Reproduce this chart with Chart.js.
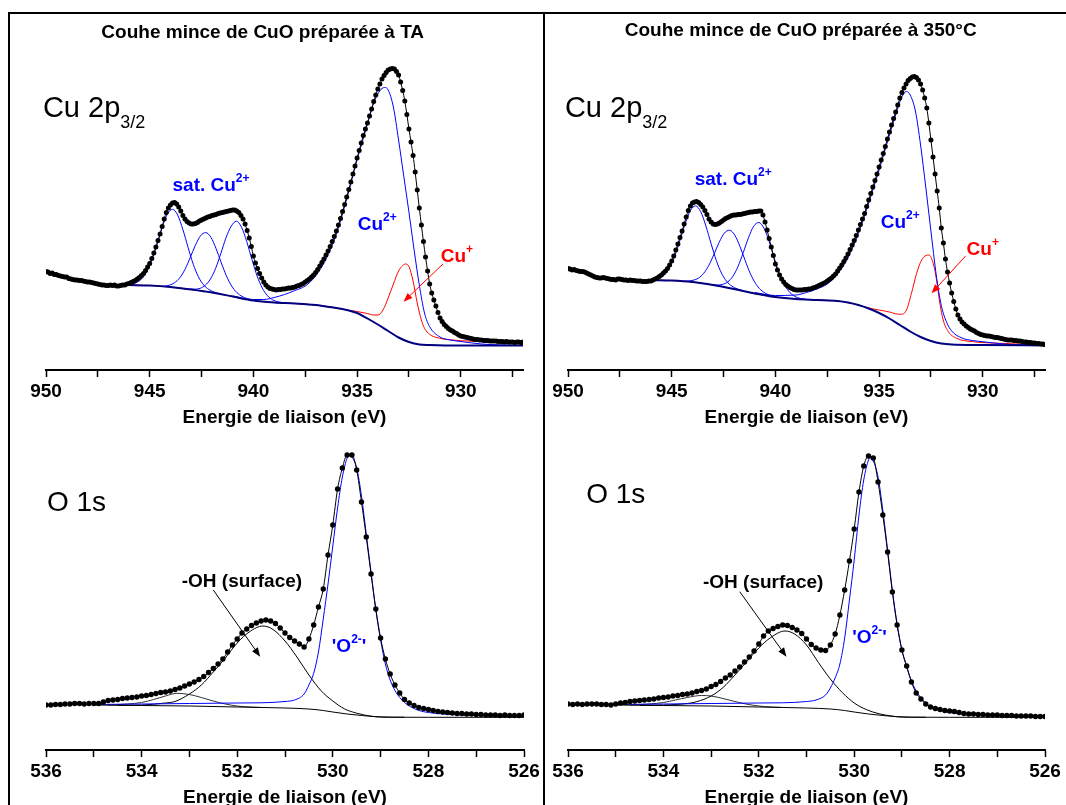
<!DOCTYPE html>
<html>
<head>
<meta charset="utf-8">
<script src="https://cdn.jsdelivr.net/npm/chart.js@4.4.1/dist/chart.umd.min.js"></script>
<style>
  body { margin: 0; background: #fff; }
  #page { position: relative; width: 1066px; height: 805px; overflow: hidden; }
  #page canvas { position: absolute; left: 0; top: 0; }
  .frame { position: absolute; border: 2px solid #000; }
</style>
</head>
<body>
<div id="page">
  <div class="frame" style="left:8px;top:12px;width:533px;height:900px;"></div>
  <div class="frame" style="left:543px;top:12px;width:600px;height:900px;border-left:none;"></div>
  <canvas id="cu-ta" width="1066" height="860"></canvas>
  <canvas id="cu-350" width="1066" height="860"></canvas>
  <canvas id="o-ta" width="1066" height="860"></canvas>
  <canvas id="o-350" width="1066" height="860"></canvas>
</div>
<script>
// XPS spectra, intensities in arbitrary units (kcps)

// ---- Cu 2p3/2 (one row per eV) ----
const cuEnergy = [
  950.0, 949.9, 949.8, 949.7, 949.6, 949.5, 949.4, 949.3, 949.2, 949.1,
  949.0, 948.9, 948.8, 948.7, 948.6, 948.5, 948.4, 948.3, 948.2, 948.1,
  948.0, 947.9, 947.8, 947.7, 947.6, 947.5, 947.4, 947.3, 947.2, 947.1,
  947.0, 946.9, 946.8, 946.7, 946.6, 946.5, 946.4, 946.3, 946.2, 946.1,
  946.0, 945.9, 945.8, 945.7, 945.6, 945.5, 945.4, 945.3, 945.2, 945.1,
  945.0, 944.9, 944.8, 944.7, 944.6, 944.5, 944.4, 944.3, 944.2, 944.1,
  944.0, 943.9, 943.8, 943.7, 943.6, 943.5, 943.4, 943.3, 943.2, 943.1,
  943.0, 942.9, 942.8, 942.7, 942.6, 942.5, 942.4, 942.3, 942.2, 942.1,
  942.0, 941.9, 941.8, 941.7, 941.6, 941.5, 941.4, 941.3, 941.2, 941.1,
  941.0, 940.9, 940.8, 940.7, 940.6, 940.5, 940.4, 940.3, 940.2, 940.1,
  940.0, 939.9, 939.8, 939.7, 939.6, 939.5, 939.4, 939.3, 939.2, 939.1,
  939.0, 938.9, 938.8, 938.7, 938.6, 938.5, 938.4, 938.3, 938.2, 938.1,
  938.0, 937.9, 937.8, 937.7, 937.6, 937.5, 937.4, 937.3, 937.2, 937.1,
  937.0, 936.9, 936.8, 936.7, 936.6, 936.5, 936.4, 936.3, 936.2, 936.1,
  936.0, 935.9, 935.8, 935.7, 935.6, 935.5, 935.4, 935.3, 935.2, 935.1,
  935.0, 934.9, 934.8, 934.7, 934.6, 934.5, 934.4, 934.3, 934.2, 934.1,
  934.0, 933.9, 933.8, 933.7, 933.6, 933.5, 933.4, 933.3, 933.2, 933.1,
  933.0, 932.9, 932.8, 932.7, 932.6, 932.5, 932.4, 932.3, 932.2, 932.1,
  932.0, 931.9, 931.8, 931.7, 931.6, 931.5, 931.4, 931.3, 931.2, 931.1,
  931.0, 930.9, 930.8, 930.7, 930.6, 930.5, 930.4, 930.3, 930.2, 930.1,
  930.0, 929.9, 929.8, 929.7, 929.6, 929.5, 929.4, 929.3, 929.2, 929.1,
  929.0, 928.9, 928.8, 928.7, 928.6, 928.5, 928.4, 928.3, 928.2, 928.1,
  928.0, 927.9, 927.8, 927.7, 927.6, 927.5, 927.4, 927.3, 927.2, 927.1,
  927.0];

const cuTA = [
  9.85, 9.8, 9.65, 9.7, 9.55, 9.55, 9.45, 9.4, 9.35, 9.3,
  9.3, 9.15, 9.1, 9.05, 9.0, 9.0, 8.95, 8.95, 8.9, 8.85,
  8.8, 8.8, 8.75, 8.7, 8.65, 8.6, 8.55, 8.5, 8.5, 8.45,
  8.45, 8.5, 8.45, 8.5, 8.4, 8.4, 8.45, 8.5, 8.5, 8.6,
  8.65, 8.75, 8.85, 8.95, 9.1, 9.25, 9.45, 9.65, 9.95, 10.3,
  10.65, 11.15, 11.7, 12.3, 12.95, 13.6, 14.35, 15.1, 15.75, 16.2,
  16.5, 16.7, 16.75, 16.6, 16.3, 15.9, 15.45, 15.1, 14.85, 14.7,
  14.6, 14.6, 14.65, 14.75, 14.9, 15.0, 15.1, 15.2, 15.3, 15.35,
  15.45, 15.5, 15.55, 15.65, 15.7, 15.75, 15.8, 15.85, 15.9, 15.95,
  16.0, 16.0, 15.9, 15.75, 15.45, 15.1, 14.6, 13.95, 13.2, 12.35,
  11.4, 10.7, 10.15, 9.65, 9.2, 8.8, 8.5, 8.3, 8.15, 8.1,
  8.05, 8.0, 8.05, 8.05, 8.1, 8.1, 8.15, 8.2, 8.2, 8.25,
  8.3, 8.4, 8.45, 8.55, 8.65, 8.8, 8.95, 9.1, 9.3, 9.5,
  9.75, 10.05, 10.4, 10.75, 11.1, 11.5, 11.9, 12.35, 12.85, 13.35,
  13.9, 14.5, 15.15, 15.85, 16.55, 17.3, 18.05, 18.8, 19.6, 20.4,
  21.2, 21.95, 22.7, 23.45, 24.1, 24.7, 25.4, 26.1, 26.85, 27.5,
  28.1, 28.6, 29.1, 29.45, 29.75, 30.0, 30.1, 30.15, 30.1, 29.85,
  29.5, 28.8, 27.95, 26.9, 25.55, 24.1, 22.8, 21.45, 19.8, 18.0,
  16.2, 14.5, 12.85, 11.3, 9.9, 8.6, 7.7, 7.0, 6.4, 5.75,
  5.2, 4.85, 4.55, 4.35, 4.15, 4.0, 3.9, 3.75, 3.65, 3.5,
  3.4, 3.35, 3.3, 3.25, 3.2, 3.15, 3.1, 3.05, 3.05, 3.0,
  3.0, 2.95, 2.95, 2.95, 2.9, 2.9, 2.9, 2.9, 2.85, 2.85,
  2.85, 2.8, 2.85, 2.8, 2.8, 2.8, 2.75, 2.8, 2.8, 2.75,
  2.8];

const cu350 = [
  10.15, 10.1, 10.0, 10.05, 9.95, 9.9, 9.85, 9.85, 9.8, 9.7,
  9.6, 9.5, 9.4, 9.3, 9.25, 9.2, 9.2, 9.25, 9.2, 9.15,
  9.1, 9.05, 9.05, 9.0, 9.1, 9.1, 9.05, 9.0, 9.0, 8.95,
  9.0, 8.95, 8.95, 8.9, 8.9, 8.9, 8.85, 8.85, 8.85, 8.9,
  8.9, 9.0, 9.1, 9.2, 9.35, 9.5, 9.7, 9.9, 10.15, 10.5,
  10.9, 11.4, 12.0, 12.6, 13.25, 13.9, 14.6, 15.3, 15.95, 16.4,
  16.7, 16.8, 16.85, 16.75, 16.55, 16.3, 15.95, 15.55, 15.1, 14.8,
  14.6, 14.55, 14.6, 14.7, 14.85, 15.0, 15.15, 15.25, 15.35, 15.45,
  15.5, 15.5, 15.55, 15.55, 15.6, 15.65, 15.7, 15.75, 15.8, 15.8,
  15.85, 15.85, 15.9, 15.9, 15.5, 14.8, 14.0, 13.15, 12.3, 11.45,
  10.6, 10.0, 9.5, 9.1, 8.8, 8.55, 8.4, 8.25, 8.15, 8.05,
  8.0, 8.0, 8.0, 8.0, 8.05, 8.05, 8.1, 8.1, 8.2, 8.25,
  8.35, 8.45, 8.55, 8.65, 8.75, 8.9, 9.05, 9.2, 9.4, 9.6,
  9.9, 10.2, 10.5, 10.85, 11.2, 11.6, 12.05, 12.5, 12.95, 13.45,
  14.0, 14.55, 15.1, 15.65, 16.35, 17.0, 17.65, 18.3, 18.95, 19.6,
  20.3, 21.0, 21.65, 22.35, 23.1, 23.8, 24.5, 25.15, 25.8, 26.5,
  27.2, 27.75, 28.2, 28.6, 28.95, 29.15, 29.3, 29.35, 29.25, 29.0,
  28.6, 28.0, 27.2, 26.2, 24.7, 23.0, 21.3, 19.6, 17.9, 16.2,
  14.2, 12.7, 11.1, 9.8, 8.7, 7.7, 6.85, 6.1, 5.5, 5.1,
  4.8, 4.6, 4.4, 4.25, 4.1, 4.0, 3.9, 3.75, 3.65, 3.55,
  3.5, 3.45, 3.4, 3.4, 3.35, 3.3, 3.25, 3.25, 3.2, 3.15,
  3.1, 3.05, 3.0, 3.0, 3.0, 2.95, 2.95, 2.9, 2.9, 2.85,
  2.8, 2.8, 2.75, 2.75, 2.7, 2.7, 2.65, 2.65, 2.6, 2.6,
  2.55];

// fitted components [energy, intensity]
const taBackground = [[946, 8.5], [945, 8.45], [944, 8.3], [943, 8.05], [942, 7.75], [941, 7.35], [940, 6.95],
  [939, 6.75], [938, 6.65], [937, 6.5], [936.5, 6.35], [936, 6.2], [935.5, 6.0], [935, 5.7], [934.5, 5.15],
  [934, 4.55], [933.5, 3.9], [933, 3.25], [932.5, 2.8], [932, 2.55], [931.5, 2.5], [930, 2.45], [927, 2.45]];
const taSat1 = [[946.15, 8.53], [945.9, 8.58], [945.65, 8.73], [945.4, 9.09], [945.15, 9.8], [944.9, 10.96],
  [944.65, 12.54], [944.4, 14.24], [944.15, 15.59], [943.9, 16.07], [943.65, 15.49], [943.4, 14.05],
  [943.15, 12.26], [942.9, 10.58], [942.65, 9.32], [942.4, 8.51], [942.15, 8.06], [941.9, 7.8], [941.65, 7.64]];
const taSat2 = [[944.55, 8.36], [944.3, 8.38], [944.05, 8.48], [943.8, 8.73], [943.55, 9.22], [943.3, 10.06],
  [943.05, 11.22], [942.8, 12.46], [942.55, 13.42], [942.3, 13.74], [942.05, 13.27], [941.8, 12.14],
  [941.55, 10.73], [941.3, 9.41], [941.05, 8.4], [940.8, 7.75], [940.55, 7.36], [940.3, 7.14], [940.05, 6.99]];
const taSat3 = [[943.07, 8.1], [942.82, 8.08], [942.57, 8.17], [942.32, 8.47], [942.07, 9.1], [941.82, 10.17],
  [941.57, 11.65], [941.32, 13.23], [941.07, 14.37], [940.82, 14.88], [940.57, 14.27], [940.32, 12.83],
  [940.07, 11.05], [939.82, 9.4], [939.57, 8.19], [939.32, 7.43], [939.07, 7.01], [938.82, 6.82], [938.57, 6.74]];
const taCu2 = [[941, 7.4], [940, 7.05], [939.5, 7.05], [939, 7.25], [938.5, 7.55], [938, 7.95], [937.5, 8.4],
  [937, 9.4], [936.5, 11.1], [936, 13.6], [935.5, 17.1], [935, 21.0], [934.5, 24.6], [934.25, 26.4], [934, 27.6],
  [933.8, 28.15], [933.67, 28.25], [933.5, 28.0], [933.25, 26.3], [933, 23.0], [932.75, 19.4], [932.5, 15.8],
  [932.25, 12.0], [932, 8.5], [931.75, 5.7], [931.5, 4.33], [931, 3.3], [930.5, 3.0], [930, 2.85], [929, 2.6],
  [928, 2.5], [927, 2.45]];
const taCu1 = [[946, 8.5], [945, 8.45], [944, 8.3], [943, 8.05], [942, 7.75], [941, 7.35], [940, 6.95],
  [939, 6.75], [938, 6.65], [937, 6.5], [936, 6.2], [935.5, 6.0], [935, 5.85], [934.5, 5.65], [934.2, 5.5],
  [934, 5.5], [933.75, 6.0], [933.5, 7.2], [933.25, 8.6], [933, 9.9], [932.8, 10.45], [932.66, 10.6],
  [932.5, 10.35], [932.3, 8.9], [932.1, 6.7], [931.9, 5.0], [931.75, 4.17], [931.5, 3.57], [931.2, 3.27],
  [930.5, 3.02], [929.5, 2.88], [928.5, 2.8], [927, 2.75]];

const c350Background = [[946, 9.0], [945, 8.95], [944, 8.8], [943, 8.5], [942, 8.1], [941, 7.65], [940, 7.3],
  [939, 7.1], [938, 7.0], [937, 6.9], [936.5, 6.75], [936, 6.5], [935.5, 6.15], [935, 5.7], [934.5, 5.15],
  [934, 4.5], [933.5, 3.85], [933, 3.3], [932.5, 2.9], [932, 2.65], [931.5, 2.55], [930, 2.5], [927, 2.45]];
const c350Sat1 = [[946.1, 9.03], [945.85, 9.07], [945.6, 9.21], [945.35, 9.57], [945.1, 10.28], [944.85, 11.42],
  [944.6, 12.96], [944.35, 14.63], [944.1, 15.94], [943.85, 16.41], [943.6, 15.83], [943.35, 14.4],
  [943.1, 12.63], [942.85, 10.96], [942.6, 9.69], [942.35, 8.87], [942.1, 8.39], [941.85, 8.12], [941.6, 7.95]];
const c350Sat2 = [[944.46, 8.87], [944.21, 8.89], [943.96, 8.98], [943.71, 9.18], [943.46, 9.66], [943.21, 10.46],
  [942.96, 11.58], [942.71, 12.77], [942.46, 13.69], [942.21, 13.98], [941.96, 13.49], [941.71, 12.36],
  [941.46, 10.96], [941.21, 9.65], [940.96, 8.66], [940.71, 8.02], [940.46, 7.65], [940.21, 7.44], [939.96, 7.31]];
const c350Sat3 = [[943.05, 8.52], [942.8, 8.5], [942.55, 8.56], [942.3, 8.81], [942.05, 9.37], [941.8, 10.36],
  [941.55, 11.74], [941.3, 13.22], [941.05, 14.37], [940.8, 14.75], [940.55, 14.18], [940.3, 12.84],
  [940.05, 11.16], [939.8, 9.61], [939.55, 8.46], [939.3, 7.75], [939.05, 7.35], [938.8, 7.16], [938.55, 7.09]];
const c350Cu2 = [[941, 7.75], [940, 7.45], [939, 7.5], [938.5, 7.75], [938, 8.1], [937.5, 8.6], [937, 9.6],
  [936.5, 11.25], [936, 13.65], [935.5, 16.7], [935, 20.0], [934.5, 23.5], [934.25, 25.2], [934, 26.8],
  [933.85, 27.5], [933.68, 27.85], [933.5, 27.5], [933.25, 25.9], [933, 22.5], [932.75, 18.3], [932.5, 13.9],
  [932.25, 9.6], [932, 6.45], [931.75, 4.8], [931.5, 3.9], [931, 3.2], [930.5, 2.95], [930, 2.83], [929, 2.6],
  [928, 2.5], [927, 2.45]];
const c350Cu1 = [[946, 9.0], [945, 8.95], [944, 8.8], [943, 8.5], [942, 8.1], [941, 7.65], [940, 7.3],
  [939, 7.1], [938, 7.0], [937, 6.9], [936, 6.5], [935.5, 6.2], [935, 6.0], [934.5, 5.8], [934.2, 5.62],
  [933.92, 5.57], [933.68, 6.0], [933.44, 7.67], [933.19, 9.67], [932.95, 11.0], [932.74, 11.45], [932.6, 11.5],
  [932.39, 10.67], [932.23, 9.0], [932.07, 6.67], [931.91, 5.0], [931.66, 3.83], [931.26, 3.17], [930.46, 2.83],
  [929.17, 2.67], [927, 2.5]];

// ---- O 1s ----
const oEnergy = [
  536.0, 535.9, 535.8, 535.7, 535.6, 535.5, 535.4, 535.3, 535.2, 535.1,
  535.0, 534.9, 534.8, 534.7, 534.6, 534.5, 534.4, 534.3, 534.2, 534.1,
  534.0, 533.9, 533.8, 533.7, 533.6, 533.5, 533.4, 533.3, 533.2, 533.1,
  533.0, 532.9, 532.8, 532.7, 532.6, 532.5, 532.4, 532.3, 532.2, 532.1,
  532.0, 531.9, 531.8, 531.7, 531.6, 531.5, 531.4, 531.3, 531.2, 531.1,
  531.0, 530.9, 530.8, 530.7, 530.6, 530.5, 530.4, 530.3, 530.2, 530.1,
  530.0, 529.9, 529.8, 529.7, 529.6, 529.5, 529.4, 529.3, 529.2, 529.1,
  529.0, 528.9, 528.8, 528.7, 528.6, 528.5, 528.4, 528.3, 528.2, 528.1,
  528.0, 527.9, 527.8, 527.7, 527.6, 527.5, 527.4, 527.3, 527.2, 527.1,
  527.0, 526.9, 526.8, 526.7, 526.6, 526.5, 526.4, 526.3, 526.2, 526.1,
  526.0];

const oTA = [
  4.5, 4.5, 4.55, 4.55, 4.6, 4.6, 4.65, 4.65, 4.6, 4.65,
  4.65, 4.65, 4.8, 4.95, 5.0, 5.05, 5.15, 5.2, 5.25, 5.3,
  5.4, 5.45, 5.55, 5.65, 5.75, 5.8, 5.9, 6.05, 6.2, 6.4,
  6.6, 6.8, 7.05, 7.35, 7.75, 8.15, 8.6, 9.1, 9.8, 10.5,
  11.1, 11.7, 12.1, 12.45, 12.7, 12.9, 13.0, 12.9, 12.65, 12.2,
  11.7, 11.25, 10.9, 10.6, 10.3, 11.1, 12.5, 14.3, 16.1, 19.5,
  22.5, 26.1, 28.2, 29.5, 29.5, 28.0, 24.8, 21.3, 17.6, 14.1,
  11.2, 9.1, 7.6, 6.5, 5.7, 5.05, 4.7, 4.45, 4.25, 4.15,
  4.05, 3.95, 3.85, 3.8, 3.75, 3.7, 3.65, 3.65, 3.6, 3.6,
  3.55, 3.55, 3.5, 3.5, 3.5, 3.45, 3.5, 3.45, 3.45, 3.45,
  3.5];

const o350 = [
  4.6, 4.55, 4.6, 4.55, 4.6, 4.6, 4.6, 4.55, 4.55, 4.5,
  4.6, 4.7, 4.75, 4.85, 4.9, 4.95, 5.0, 5.05, 5.1, 5.2,
  5.25, 5.3, 5.4, 5.45, 5.55, 5.6, 5.7, 5.85, 5.95, 6.1,
  6.35, 6.55, 6.85, 7.2, 7.5, 7.9, 8.3, 8.8, 9.3, 9.9,
  10.6, 11.4, 11.9, 12.15, 12.35, 12.5, 12.45, 12.25, 12.0, 11.65,
  11.1, 10.55, 10.2, 10.0, 9.95, 10.5, 11.6, 13.5, 16.0, 18.9,
  22.1, 25.8, 28.4, 29.4, 29.2, 26.8, 23.5, 19.8, 15.8, 12.5,
  10.0, 8.4, 6.8, 5.7, 5.1, 4.6, 4.3, 4.15, 4.05, 3.95,
  3.9, 3.85, 3.75, 3.65, 3.6, 3.6, 3.55, 3.55, 3.5, 3.5,
  3.5, 3.45, 3.45, 3.45, 3.4, 3.4, 3.4, 3.4, 3.35, 3.35,
  3.35];

const oBackground = [[535, 4.5], [534, 4.45], [533, 4.4], [532, 4.3], [531, 4.2], [530.5, 4.1], [530.2, 3.95],
  [530, 3.8], [529.7, 3.6], [529.4, 3.45], [529.1, 3.33], [528.8, 3.28], [528, 3.27], [526, 3.27]];
const oTAOxide = [[535, 4.55], [534, 4.6], [533, 4.65], [532, 4.7], [531.5, 4.72], [531, 4.85], [530.8, 5.0],
  [530.6, 5.6], [530.5, 6.5], [530.4, 7.67], [530.3, 9.8], [530.2, 13.1], [530.1, 16.6], [530, 20.4],
  [529.9, 24.2], [529.8, 27.3], [529.7, 29.2], [529.65, 29.5], [529.6, 29.3], [529.5, 28.2], [529.4, 25.4],
  [529.3, 21.6], [529.2, 17.8], [529.1, 14.0], [529, 11.0], [528.9, 8.6], [528.8, 7.0], [528.7, 5.95],
  [528.6, 5.25], [528.5, 4.75], [528.4, 4.4], [528.2, 3.95], [528, 3.75], [527.5, 3.55], [527, 3.45],
  [526.5, 3.38], [526, 3.33]];
const oTAHydroxyl = [[534.5, 4.47], [534, 4.5], [533.5, 4.7], [533.3, 4.85], [533, 5.6], [532.75, 6.5],
  [532.5, 7.8], [532.25, 9.2], [532, 10.7], [531.75, 11.8], [531.46, 12.4], [531.25, 12.05], [531, 10.9],
  [530.75, 9.3], [530.5, 7.5], [530.25, 5.95], [530, 4.9], [529.75, 4.1], [529.5, 3.68], [529.2, 3.38],
  [529, 3.3], [528.5, 3.27]];
const oTAWater = [[534.7, 4.5], [534.3, 4.6], [534, 4.75], [533.75, 5.05], [533.5, 5.4], [533.26, 5.67],
  [533, 5.55], [532.75, 5.25], [532.5, 4.9], [532.25, 4.6], [532, 4.4], [531.75, 4.3], [531.5, 4.25]];

const o350Oxide = [[535, 4.55], [534, 4.6], [533, 4.65], [532, 4.7], [531.5, 4.72], [531, 4.85], [530.8, 5.0],
  [530.6, 5.5], [530.5, 6.2], [530.4, 7.2], [530.3, 8.6], [530.2, 11.2], [530.1, 15.0], [530, 19.0],
  [529.9, 23.5], [529.8, 27.0], [529.7, 29.0], [529.67, 29.2], [529.6, 28.9], [529.5, 27.3], [529.4, 24.0],
  [529.3, 20.0], [529.2, 16.0], [529.1, 12.6], [529, 10.0], [528.9, 8.3], [528.8, 6.9], [528.7, 5.9],
  [528.6, 5.2], [528.5, 4.7], [528.4, 4.35], [528.2, 3.95], [528, 3.75], [527.5, 3.55], [527, 3.45],
  [526.5, 3.38], [526, 3.33]];
const o350Hydroxyl = [[534.5, 4.47], [534, 4.5], [533.5, 4.65], [533.3, 4.83], [533, 5.4], [532.75, 6.25],
  [532.5, 7.5], [532.25, 8.85], [532, 10.2], [531.75, 11.25], [531.45, 11.9], [531.25, 11.6], [531, 10.5],
  [530.75, 8.75], [530.5, 7.1], [530.25, 5.75], [530, 4.7], [529.75, 4.05], [529.5, 3.65], [529.2, 3.38],
  [529, 3.3], [528.5, 3.27]];
const o350Water = [[534.7, 4.5], [534.3, 4.6], [534, 4.75], [533.75, 5.0], [533.5, 5.25], [533.2, 5.45],
  [533, 5.4], [532.75, 5.15], [532.5, 4.85], [532.25, 4.58], [532, 4.4], [531.75, 4.3], [531.5, 4.25]];

// axis ticks
const cuTicks = [950, 947.5, 945, 942.5, 940, 937.5, 935, 932.5, 930, 927.5];
const cuTickLabels = [950, 945, 940, 935, 930];
const oTicks = [536, 535, 534, 533, 532, 531, 530, 529, 528, 527, 526];
const oTickLabels = [536, 534, 532, 530, 528, 526];

const FAMILY = '"Liberation Sans", Arial, Helvetica, sans-serif';
const font = (size, bold) => (bold ? 'bold ' : '') + size + 'px ' + FAMILY;
const BLUE = '#0000ff', RED = '#ff0000', NAVY = '#000080';

// text labels and arrows placed in data coordinates
const notesPlugin = {
  id: 'notes',
  afterDraw(chart, args, opts) {
    const ctx = chart.ctx;
    const xs = chart.scales.x, ys = chart.scales.y;
    ctx.save();
    (opts.arrows || []).forEach(a => {
      const x1 = xs.getPixelForValue(a.from[0]), y1 = ys.getPixelForValue(a.from[1]);
      const x2 = xs.getPixelForValue(a.to[0]), y2 = ys.getPixelForValue(a.to[1]);
      const ang = Math.atan2(y2 - y1, x2 - x1);
      const L = 9, W = 3.5;
      const bx = x2 - L * Math.cos(ang), by = y2 - L * Math.sin(ang);
      ctx.strokeStyle = a.color;
      ctx.fillStyle = a.color;
      ctx.lineWidth = 1;
      ctx.beginPath();
      ctx.moveTo(x1, y1);
      ctx.lineTo(bx, by);
      ctx.stroke();
      ctx.beginPath();
      ctx.moveTo(x2, y2);
      ctx.lineTo(bx + W * Math.sin(ang), by - W * Math.cos(ang));
      ctx.lineTo(bx - W * Math.sin(ang), by + W * Math.cos(ang));
      ctx.closePath();
      ctx.fill();
    });
    (opts.labels || []).forEach(l => {
      let x = xs.getPixelForValue(l.at[0]);
      const y = ys.getPixelForValue(l.at[1]);
      ctx.fillStyle = l.color || '#000';
      ctx.textAlign = 'left';
      ctx.textBaseline = 'alphabetic';
      if (l.center) {
        let w = 0;
        l.parts.forEach(p => { ctx.font = p.font; w += ctx.measureText(p.t).width; });
        x -= w / 2;
      }
      l.parts.forEach(p => {
        ctx.font = p.font;
        ctx.fillText(p.t, x, y + (p.dy || 0));
        x += ctx.measureText(p.t).width;
      });
    });
    ctx.restore();
  }
};

const pts = pairs => pairs.map(([x, y]) => ({ x, y }));
const series = (xs, ys) => xs.map((x, i) => ({ x, y: ys[i] }));

function dots(data, r) {
  return { data, showLine: true, borderColor: '#000', borderWidth: 1, pointRadius: r,
    pointBackgroundColor: '#000', pointBorderWidth: 0, cubicInterpolationMode: 'monotone', order: 0 };
}
function curve(data, color, width, order) {
  return { data: pts(data), borderColor: color, borderWidth: width, pointRadius: 0,
    cubicInterpolationMode: 'monotone', order };
}

function xAxis(min, max, ticks, labels) {
  return {
    type: 'linear', reverse: true, min, max,
    afterBuildTicks: s => { s.ticks = ticks.map(v => ({ value: v })); },
    afterFit: s => { s.height = 63; },
    border: { display: true, color: '#000', width: 2 },
    grid: { drawOnChartArea: false, drawTicks: true, tickLength: 7, tickColor: '#000', tickWidth: 1.5 },
    ticks: {
      color: '#000', padding: 3, maxRotation: 0, autoSkip: false,
      font: { family: FAMILY, size: 19, weight: 'bold' },
      callback: v => labels.includes(v) ? String(v) : ''
    },
    title: { display: true, text: 'Energie de liaison (eV)', color: '#000',
      font: { family: FAMILY, size: 19, weight: 'bold' }, padding: { top: 4, bottom: 4 } }
  };
}

function makeChart(id, datasets, xScale, padding, notes) {
  return new Chart(document.getElementById(id), {
    type: 'line',
    data: { datasets },
    options: {
      responsive: false, animation: false, devicePixelRatio: 1,
      layout: { padding },
      scales: { x: xScale, y: { display: false, min: 0, max: 32 } },
      plugins: { legend: { display: false }, tooltip: { enabled: false }, notes }
    },
    plugins: [notesPlugin]
  });
}

const sat = [
  { t: 'sat. Cu', font: font(19, true) },
  { t: '2+', font: font(12, true), dy: -9 }
];
const cu2 = [
  { t: 'Cu', font: font(19, true) },
  { t: '2+', font: font(12, true), dy: -9 }
];
const cu1 = [
  { t: 'Cu', font: font(19, true) },
  { t: '+', font: font(12, true), dy: -9 }
];
const cuName = [
  { t: 'Cu 2p', font: font(29, false) },
  { t: '3/2', font: font(18, false), dy: 11 }
];
const oxide = [
  { t: "'O", font: font(19, true) },
  { t: '2-', font: font(12, true), dy: -9 },
  { t: "'", font: font(19, true) }
];

makeChart('cu-ta', [
  dots(series(cuEnergy, cuTA), 2.5),
  curve(taBackground, NAVY, 2, 1),
  curve(taSat1, BLUE, 1, 2),
  curve(taSat2, BLUE, 1, 2),
  curve(taSat3, BLUE, 1, 2),
  curve(taCu2, BLUE, 1, 2),
  curve(taCu1, RED, 1, 3)
], xAxis(927, 950, cuTicks, cuTickLabels), { left: 46, right: 543, top: 50, bottom: 427 }, {
  labels: [
    { at: [939.55, 33.2], center: true, parts: [{ t: 'Couhe mince de CuO préparée à TA', font: font(19, true) }] },
    { at: [950.15, 25.3], parts: cuName },
    { at: [943.9, 17.95], color: BLUE, parts: sat },
    { at: [934.97, 14.0], color: BLUE, parts: cu2 },
    { at: [930.97, 10.83], color: RED, parts: cu1 }
  ],
  arrows: [{ from: [930.86, 10.6], to: [932.76, 6.83], color: RED }]
});

makeChart('cu-350', [
  dots(series(cuEnergy, cu350), 2.5),
  curve(c350Background, NAVY, 2, 1),
  curve(c350Sat1, BLUE, 1, 2),
  curve(c350Sat2, BLUE, 1, 2),
  curve(c350Sat3, BLUE, 1, 2),
  curve(c350Cu2, BLUE, 1, 2),
  curve(c350Cu1, RED, 1, 3)
], xAxis(927, 950, cuTicks, cuTickLabels), { left: 568, right: 21, top: 50, bottom: 427 }, {
  labels: [
    { at: [938.78, 33.4], center: true, parts: [{ t: 'Couhe mince de CuO préparée à 350°C', font: font(19, true) }] },
    { at: [950.15, 25.3], parts: cuName },
    { at: [943.89, 18.5], color: BLUE, parts: sat },
    { at: [934.92, 14.2], color: BLUE, parts: cu2 },
    { at: [930.78, 11.5], color: RED, parts: cu1 }
  ],
  arrows: [{ from: [930.83, 11.4], to: [932.47, 7.67], color: RED }]
});

makeChart('o-ta', [
  dots(series(oEnergy, oTA), 2.7),
  curve(oBackground, '#000', 1, 1),
  curve(oTAOxide, BLUE, 1, 2),
  curve(oTAHydroxyl, '#000', 1, 2),
  curve(oTAWater, '#333', 1, 3)
], xAxis(526, 536, oTicks, oTickLabels), { left: 46, right: 542, top: 430, bottom: 47 }, {
  labels: [
    { at: [535.98, 23.9], parts: [{ t: 'O 1s', font: font(28, false) }] },
    { at: [533.16, 16.33], parts: [{ t: '-OH (surface)', font: font(19, true) }] },
    { at: [530.02, 9.83], color: BLUE, parts: oxide }
  ],
  arrows: [{ from: [532.5, 16.0], to: [531.52, 9.33], color: '#000' }]
});

makeChart('o-350', [
  dots(series(oEnergy, o350), 2.7),
  curve(oBackground, '#000', 1, 1),
  curve(o350Oxide, BLUE, 1, 2),
  curve(o350Hydroxyl, '#000', 1, 2),
  curve(o350Water, '#333', 1, 3)
], xAxis(526, 536, oTicks, oTickLabels), { left: 568, right: 21, top: 430, bottom: 47 }, {
  labels: [
    { at: [535.62, 24.7], parts: [{ t: 'O 1s', font: font(28, false) }] },
    { at: [533.17, 16.17], parts: [{ t: '-OH (surface)', font: font(19, true) }] },
    { at: [530.04, 10.67], color: BLUE, parts: oxide }
  ],
  arrows: [{ from: [532.4, 15.83], to: [531.42, 9.33], color: '#000' }]
});
</script>
</body>
</html>
